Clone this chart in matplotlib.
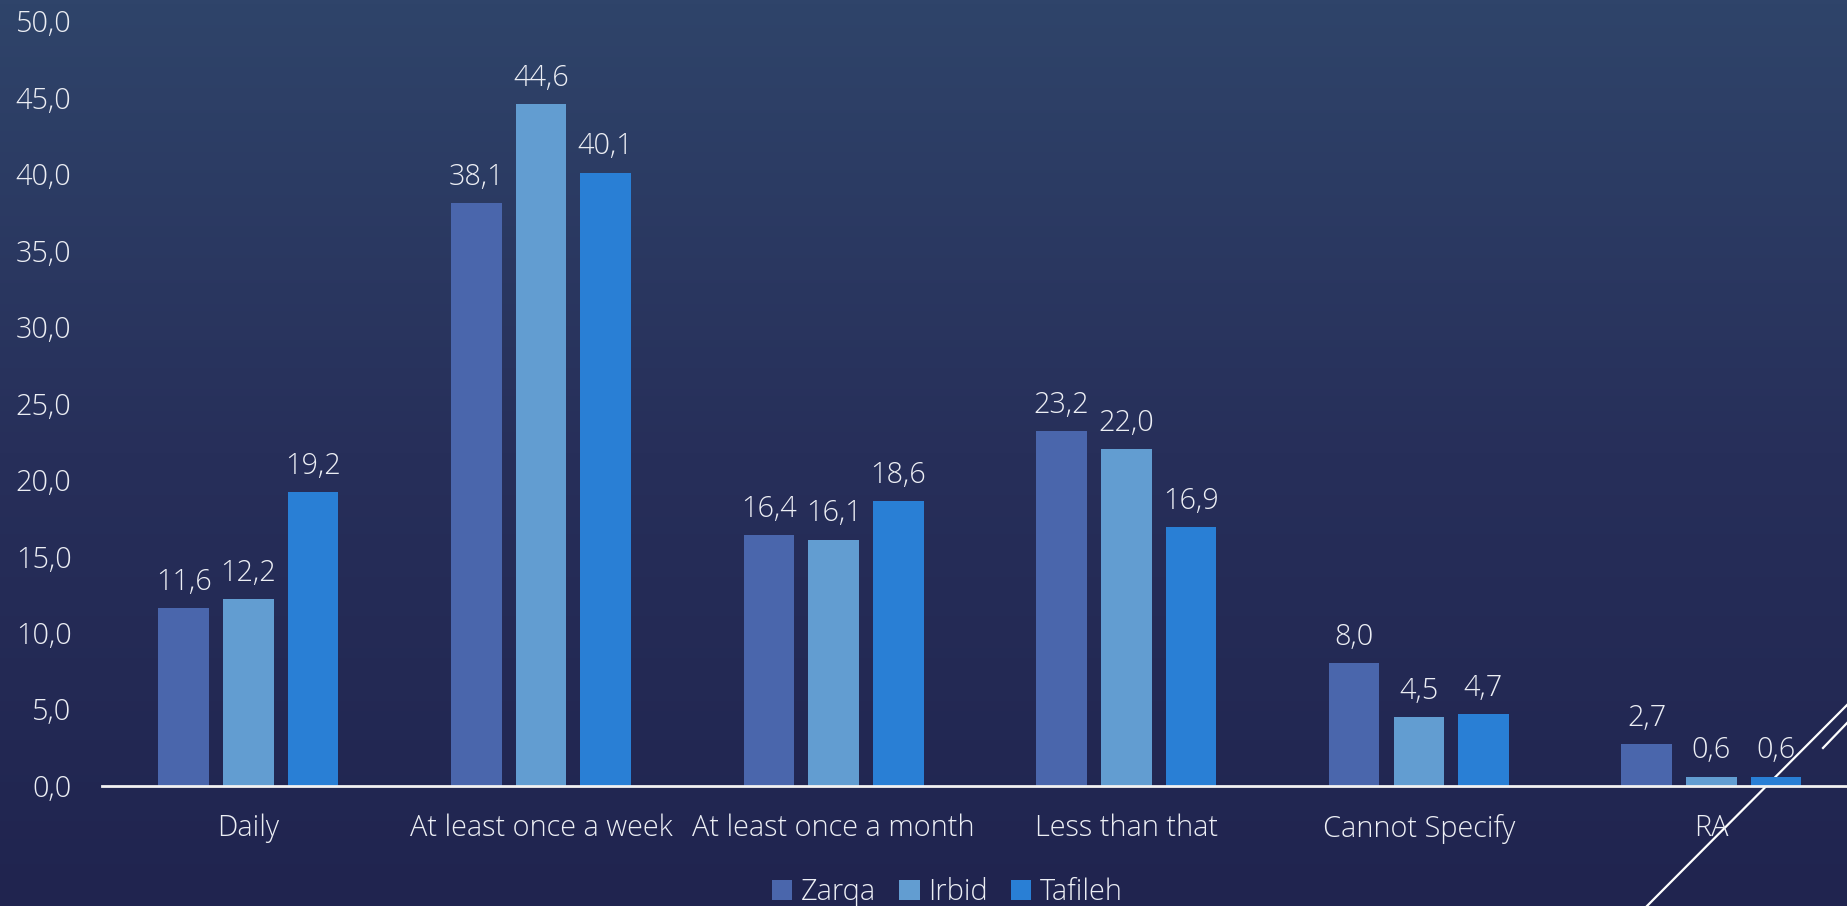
import numpy as np
import matplotlib
matplotlib.use("Agg")
import matplotlib.pyplot as plt
from matplotlib.colors import LinearSegmentedColormap

categories = ["Daily", "At least once a week", "At least once a month",
              "Less than that", "Cannot Specify", "RA"]
zarqa = [11.6, 38.1, 16.4, 23.2, 8.0, 2.7]
irbid = [12.2, 44.6, 16.1, 22.0, 4.5, 0.6]
tafileh = [19.2, 40.1, 18.6, 16.9, 4.7, 0.6]
series_names = ["Zarqa", "Irbid", "Tafileh"]
colors = ["#4A66AC", "#629DD1", "#297FD5"]
yticks = np.arange(0, 50.1, 5)

plt.rcParams['font.family'] = ['Open Sans', 'DejaVu Sans']
text_color = "#ECEEF4"
fs = 20.8

fig = plt.figure(figsize=(18.47, 9.06), dpi=100)

# background gradient
bg = fig.add_axes([0, 0, 1, 1])
cmap = LinearSegmentedColormap.from_list("bg", ["#2F446A", "#272F5A", "#20244F"])
grad = np.linspace(0, 1, 256).reshape(-1, 1)
bg.imshow(grad, aspect="auto", cmap=cmap, extent=[0, 1, 0, 1])
bg.set_xlim(0, 1)
bg.set_ylim(0, 1)
bg.axis("off")

ax = fig.add_axes([0.0553, 0.1328, 0.9505, 0.8438])
ax.patch.set_alpha(0)

x = np.arange(len(categories))
width = 0.173
pitch = 0.221
for i, (vals, name, c) in enumerate(zip([zarqa, irbid, tafileh], series_names, colors)):
    pos = x + (i - 1) * pitch
    bars = ax.bar(pos, vals, width, color=c, label=name, zorder=2)
    for b, v in zip(bars, vals):
        ax.annotate(f"{v:.1f}".replace(".", ","), (b.get_x() + b.get_width() / 2, v),
                    xytext=(0, 8), textcoords="offset points",
                    ha="center", va="bottom", color=text_color, fontsize=fs,
                    fontweight="light")

ax.set_xlim(-0.5, len(categories) - 0.5)
ax.set_ylim(0, 50)
ax.set_yticks(yticks)
ax.set_yticklabels([f"{t:.1f}".replace(".", ",") for t in yticks])
ax.set_xticks(x)
ax.set_xticklabels(categories)
ax.tick_params(axis="both", length=0, colors=text_color, labelsize=fs)
ax.tick_params(axis="y", pad=22)
ax.tick_params(axis="x", pad=20)
for lab in ax.get_xticklabels() + ax.get_yticklabels():
    lab.set_fontweight("light")
for s in ["top", "right", "left"]:
    ax.spines[s].set_visible(False)
ax.spines["bottom"].set_color("#F2F2F2")
ax.spines["bottom"].set_linewidth(2)
ax.spines["bottom"].set_zorder(3)

leg = fig.legend(loc="center", bbox_to_anchor=(0.513, 0.015), ncol=3, frameon=False,
                 fontsize=fs, handlelength=0.7, handleheight=0.7,
                 handletextpad=0.3, columnspacing=0.8)
for t in leg.get_texts():
    t.set_color(text_color)
    t.set_fontweight("light")

# decorative diagonal lines (bottom right)
bg.plot([1647 / 1847, 1.0], [0, 201 / 906], color="white", lw=1.6)
bg.plot([1823 / 1847, 1.0], [(906 - 748) / 906, (906 - 723) / 906], color="white", lw=1.6)

fig.savefig("out.png", dpi=100)
